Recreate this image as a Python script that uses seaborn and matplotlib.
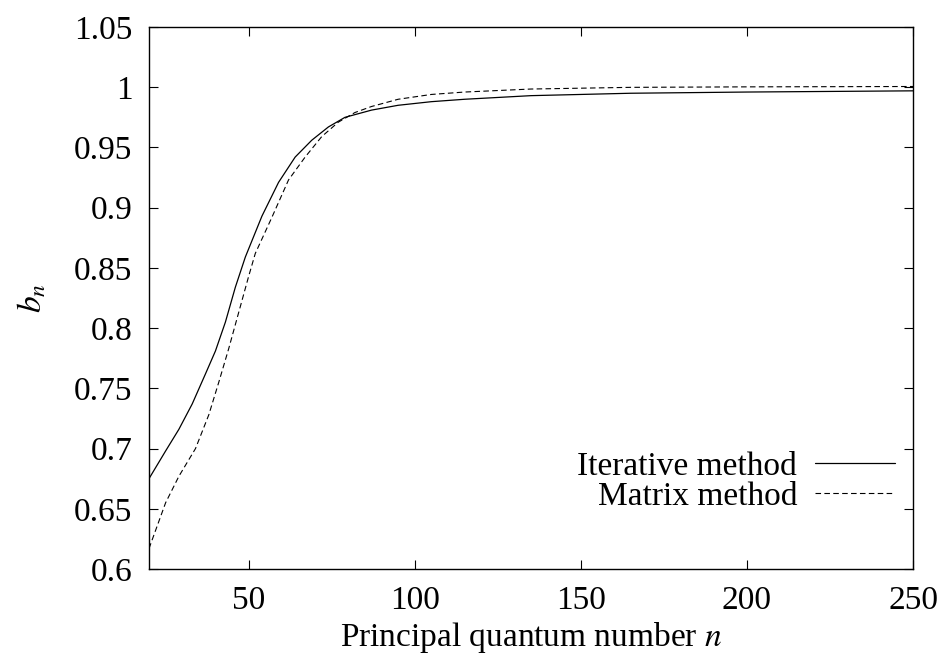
import matplotlib
matplotlib.use("Agg")
import matplotlib.pyplot as plt
import seaborn as sns
import pandas as pd

# Data
iter_n = [20, 25, 29, 33, 37, 40, 43, 46, 49, 54, 59, 64, 69, 74, 79, 83, 87, 95, 105, 115, 135, 165, 200, 250]
iter_b = [0.675, 0.698, 0.716, 0.737, 0.762, 0.781, 0.805, 0.834, 0.859, 0.893, 0.921, 0.942,
          0.956, 0.967, 0.975, 0.978, 0.981, 0.985, 0.988, 0.990, 0.993, 0.995, 0.996, 0.997]
mat_n = [20, 25, 29, 34, 38, 41, 44, 47, 50, 52, 57, 62, 67, 72, 77, 82, 87, 95, 105, 115, 135, 165, 200, 250]
mat_b = [0.617, 0.655, 0.677, 0.700, 0.728, 0.755, 0.783, 0.813, 0.843, 0.862, 0.892, 0.923,
         0.942, 0.959, 0.971, 0.979, 0.984, 0.990, 0.994, 0.996, 0.9985, 0.9999, 1.0003, 1.0006]
labels = ["Iterative method", "Matrix method"]
x_ticks = [50, 100, 150, 200, 250]
y_ticks = [0.6, 0.65, 0.7, 0.75, 0.8, 0.85, 0.9, 0.95, 1.0, 1.05]
y_tick_labels = ["0.6", "0.65", "0.7", "0.75", "0.8", "0.85", "0.9", "0.95", "1", "1.05"]

sns.set_theme(style="ticks")
plt.rcParams["font.family"] = ["Liberation Serif", "DejaVu Serif"]
plt.rcParams["mathtext.fontset"] = "stix"
plt.rcParams["text.color"] = "black"
plt.rcParams["axes.labelcolor"] = "black"

FS = 24

df_iter = pd.DataFrame({"n": iter_n, "b": iter_b})
df_mat = pd.DataFrame({"n": mat_n, "b": mat_b})

fig = plt.figure(figsize=(9.42, 6.63), dpi=100)
ax = fig.add_axes([149 / 942, 1 - 569 / 663, (913 - 149) / 942, (569 - 27) / 663])

sns.lineplot(data=df_iter, x="n", y="b", ax=ax, color="black", linewidth=0.9,
             label=labels[0])
sns.lineplot(data=df_mat, x="n", y="b", ax=ax, color="black", linewidth=0.8,
             linestyle=(0, (5, 3)), label=labels[1])

ax.set_xlim(20, 250)
ax.set_ylim(0.6, 1.05)
ax.set_xticks(x_ticks)
ax.set_yticks(y_ticks)
ax.set_yticklabels(y_tick_labels)
ax.tick_params(direction="in", length=6.5, width=0.8, top=True, right=True,
               labelsize=FS, colors="black")
ax.tick_params(axis="x", pad=12)
ax.tick_params(axis="y", pad=12)
for s in ax.spines.values():
    s.set_linewidth(1.0)
    s.set_color("black")
    s.set_visible(True)

ax.set_xlabel("Principal quantum number $n$", fontsize=FS, labelpad=3)
ax.set_ylabel("$b_n$", fontsize=FS, labelpad=18)

leg = ax.legend(loc="lower right", bbox_to_anchor=(0.977, 0.105), frameon=False,
                markerfirst=False, fontsize=FS, handlelength=2.4, handletextpad=0.55,
                labelspacing=0.0, borderaxespad=0.0, borderpad=0.0)
for t in leg.get_texts():
    t.set_ha("right")

fig.savefig("out.png", dpi=100)
